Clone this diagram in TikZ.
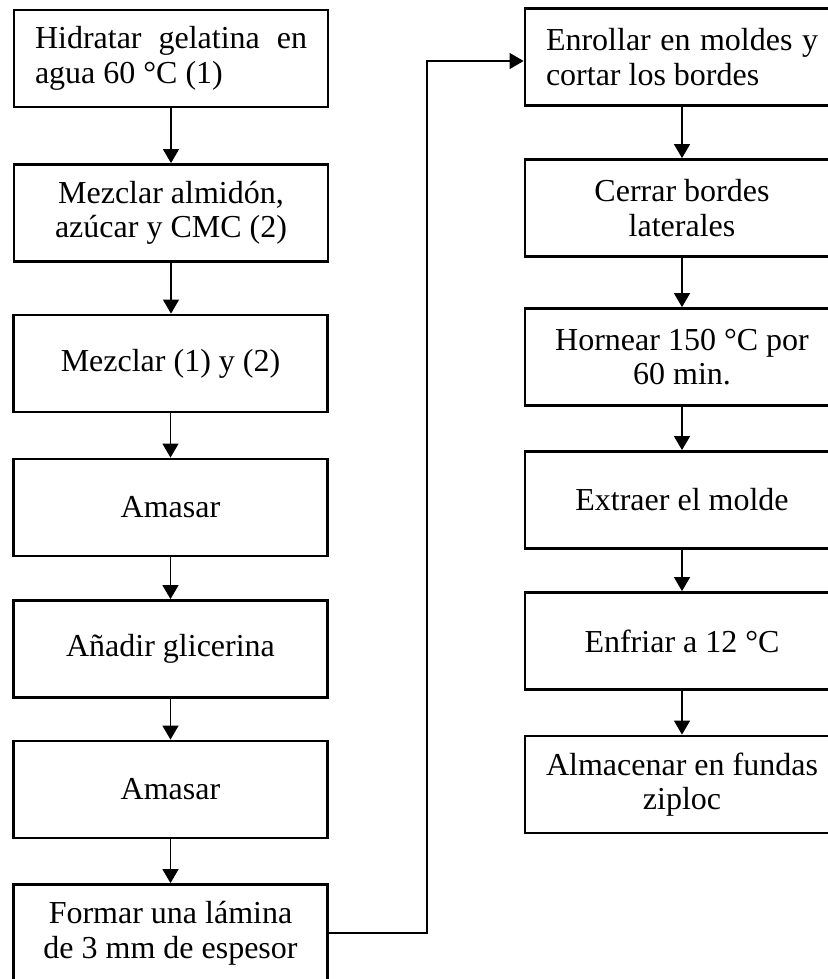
\documentclass[tikz,border=0pt]{standalone}
\usepackage{fontspec}
\setmainfont{Liberation Serif}
\usetikzlibrary{arrows.meta}
\begin{document}
\begin{tikzpicture}[x=0.5pt,y=-0.5pt,
  box/.style={draw, line width=1.4pt, minimum width=157pt, minimum height=48.5pt,
    inner sep=0pt, font=\fontsize{16}{17.3}\selectfont, align=center},
  jbox/.style={box, text width=136pt, align=justify},
  arr/.style={line width=0.65pt, -{Triangle[width=8pt,length=7pt]}}]
\useasboundingbox (0,0) rectangle (827,979);
% left column
\node[jbox] (b1) at (171,58.5) {Hidratar gelatina en agua 60 °C (1)};
\node[box] (b2) at (171,213) {Mezclar almidón,\\azúcar y CMC (2)};
\node[box] (b3) at (170.5,363.5) {Mezclar (1) y (2)};
\node[box] (b4) at (170.5,507.5) {Amasar};
\node[box] (b5) at (170.5,649) {Añadir glicerina};
\node[box] (b6) at (170.5,789.5) {Amasar};
\node[box] (b7) at (170.5,933) {Formar una lámina\\de 3 mm de espesor};
% right column
\node[jbox] (r1) at (682,57) {Enrollar en moldes y cortar los bordes};
\node[box] (r2) at (682,208) {Cerrar bordes\\laterales};
\node[box] (r3) at (682,357) {Hornear 150 °C por\\60 min.};
\node[box] (r4) at (682,500) {Extraer el molde};
\node[box] (r5) at (682,641) {Enfriar a 12 °C};
\node[box] (r6) at (682,784.5) {Almacenar en fundas\\ziploc};
% connectors
\draw[arr] (b1.south -| b2.north) -- (b2.north);
\draw[arr] (b2.south) -- (b2.south |- b3.north);
\draw[arr] (b3) -- (b4);
\draw[arr] (b4) -- (b5);
\draw[arr] (b5) -- (b6);
\draw[arr] (b6) -- (b7);
\draw[arr] (b7.east) -- ++(98,0) |- ([yshift=-2pt]r1.west);
\draw[arr] (r1) -- (r2);
\draw[arr] (r2) -- (r3);
\draw[arr] (r3) -- (r4);
\draw[arr] (r4) -- (r5);
\draw[arr] (r5) -- (r6);
\end{tikzpicture}
\end{document}
